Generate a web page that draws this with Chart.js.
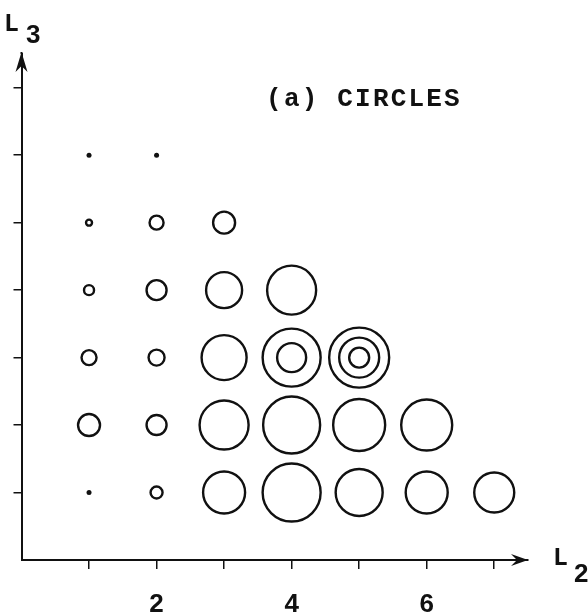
<!DOCTYPE html>
<html lang="en">
<head>
<meta charset="UTF-8">
<title>(a) Circles</title>
<script src="https://cdn.jsdelivr.net/npm/chart.js"></script>
<style>
    html, body { margin: 0; padding: 0; background: #fff; }
    #wrap { width: 588px; height: 615px; position: relative; }
</style>
</head>
<body>
<div id="wrap"><canvas id="circlesChart"></canvas></div>
<script>
// ring centres (L2, L3) and radius; a repeated centre gives nested rings
const ringL2     = [2, 3, 4, 5, 6, 7,   1, 2, 3, 4, 5, 6,   1, 2, 3, 4, 4, 5, 5, 5,   1, 2, 3, 4,   1, 2, 3];
const ringL3     = [1, 1, 1, 1, 1, 1,   2, 2, 2, 2, 2, 2,   3, 3, 3, 3, 3, 3, 3, 3,   4, 4, 4, 4,   5, 5, 5];
const ringRadius = [6, 21, 29, 23.5, 21, 20,   11, 10, 24.5, 28.5, 26, 25.5,   7.5, 8, 22.5, 29, 14.5, 30, 20, 10,   5, 10, 18, 24.5,   3, 7, 11];

// filled dots
const dotL2 = [1, 1, 2];
const dotL3 = [1, 6, 6];

// axis ticks
const l2Ticks = [1, 2, 3, 4, 5, 6, 7];
const l2TickLabels = ['', '2', '', '4', '', '6', ''];
const l3Ticks = [1, 2, 3, 4, 5, 6, 7];

const INK = '#111';
const TYPE = '"Liberation Mono"';

const rings = ringL2.map((x, i) => ({ x: x, y: ringL3[i], r: ringRadius[i] }));
const dots = dotL2.map((x, i) => ({ x: x, y: dotL3[i], r: 2.5 }));

// typewriter-style text: every character gets the same advance
function typeText(ctx, text, left, baseline, advance) {
    ctx.textAlign = 'center';
    for (let i = 0; i < text.length; i++) {
        ctx.fillText(text[i], left + advance * (i + 0.5), baseline);
    }
}

// arrowheads, axis names and the panel caption
const decorations = {
    id: 'decorations',
    afterDraw(chart) {
        const ctx = chart.ctx;
        const a = chart.chartArea;
        ctx.save();
        ctx.fillStyle = INK;
        ctx.strokeStyle = INK;
        ctx.lineWidth = 2;

        // y arrow
        ctx.beginPath();
        ctx.moveTo(a.left, a.top);
        ctx.lineTo(a.left, a.top - 2);
        ctx.stroke();
        ctx.beginPath();
        ctx.moveTo(a.left, a.top - 2);
        ctx.lineTo(a.left - 6, a.top + 18);
        ctx.lineTo(a.left, a.top + 12);
        ctx.lineTo(a.left + 6, a.top + 18);
        ctx.closePath();
        ctx.fill();

        // x arrow
        ctx.beginPath();
        ctx.moveTo(a.right, a.bottom);
        ctx.lineTo(a.right - 17, a.bottom - 6);
        ctx.lineTo(a.right - 11, a.bottom);
        ctx.lineTo(a.right - 17, a.bottom + 6);
        ctx.closePath();
        ctx.fill();

        ctx.textBaseline = 'alphabetic';
        ctx.textAlign = 'left';

        // L3
        ctx.font = 'bold 25px ' + TYPE;
        ctx.fillText('L', 4, 31);
        ctx.font = 'bold 26px "Liberation Sans"';
        ctx.fillText('3', 26, 43);

        // L2
        ctx.font = 'bold 25px ' + TYPE;
        ctx.fillText('L', 553, 565);
        ctx.font = 'bold 26px "Liberation Sans"';
        ctx.fillText('2', 574, 582);

        // caption
        ctx.font = 'bold 26px ' + TYPE;
        typeText(ctx, '(a) CIRCLES', 265, 106, 17.8);
        ctx.restore();
    }
};

new Chart(document.getElementById('circlesChart'), {
    type: 'bubble',
    data: {
        datasets: [
            {
                data: rings,
                backgroundColor: 'rgba(0,0,0,0)',
                borderColor: INK,
                borderWidth: 2.4,
                hoverRadius: 0
            },
            {
                data: dots,
                backgroundColor: INK,
                borderColor: INK,
                borderWidth: 0,
                hoverRadius: 0
            }
        ]
    },
    options: {
        responsive: true,
        maintainAspectRatio: false,
        animation: false,
        events: [],
        layout: {
            autoPadding: false,
            padding: { left: 0, right: 60, top: 54, bottom: 0 }
        },
        plugins: {
            legend: { display: false },
            tooltip: { enabled: false }
        },
        scales: {
            x: {
                type: 'linear',
                min: 0,
                max: 7.5,
                afterFit: s => { s.height = 55; },
                afterBuildTicks: s => { s.ticks = l2Ticks.map(v => ({ value: v })); },
                grid: { drawOnChartArea: false, drawTicks: true, tickLength: 9, color: INK, lineWidth: 1.5 },
                border: { display: true, color: INK, width: 2 },
                ticks: {
                    color: INK,
                    padding: 20,
                    maxRotation: 0,
                    autoSkip: false,
                    font: { family: 'Liberation Sans', weight: 'bold', size: 26 },
                    callback: (v, i) => l2TickLabels[i]
                }
            },
            y: {
                type: 'linear',
                min: 0,
                max: 7.5,
                afterFit: s => { s.width = 21.5; },
                afterBuildTicks: s => { s.ticks = l3Ticks.map(v => ({ value: v })); },
                grid: { drawOnChartArea: false, drawTicks: true, tickLength: 8, color: INK, lineWidth: 1.5 },
                border: { display: true, color: INK, width: 2 },
                ticks: { display: false }
            }
        }
    },
    plugins: [decorations]
});
</script>
</body>
</html>
